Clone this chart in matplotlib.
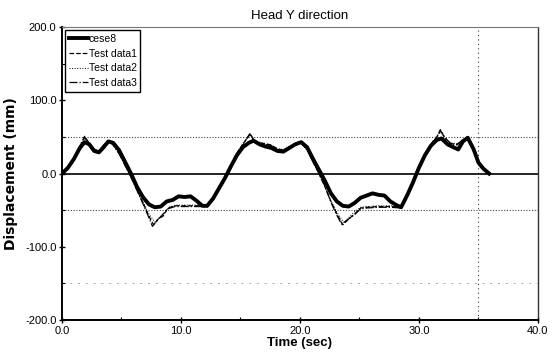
import numpy as np
import matplotlib
matplotlib.use('Agg')
import matplotlib.pyplot as plt

plt.rcParams['font.family'] = ['Liberation Sans', 'DejaVu Sans']

# cese8 (simulation)
t_cese = [0, 0.5, 1.0, 1.5, 1.9, 2.3, 2.7, 3.1, 3.5, 3.9, 4.3, 4.8, 5.3, 5.8, 6.3, 6.8, 7.3, 7.8,
          8.3, 8.8, 9.3, 9.8, 10.3, 10.8, 11.3, 11.8, 12.2, 12.7, 13.2, 13.7, 14.2, 14.7, 15.2,
          15.7, 16.1, 16.6, 17.1, 17.6, 18.1, 18.6, 19.1, 19.6, 20.1, 20.6, 21.1, 21.6, 22.1,
          22.6, 23.1, 23.6, 24.1, 24.6, 25.1, 25.6, 26.1, 26.6, 27.1, 27.6, 28.1, 28.5, 29.0,
          29.5, 30.0, 30.5, 31.0, 31.5, 31.9, 32.4, 32.9, 33.3, 33.7, 34.1, 34.6, 35.0, 35.4, 35.9]
y_cese = [0, 8, 20, 35, 43, 40, 31, 29, 36, 44, 42, 32, 16, 0, -18, -32, -42, -46,
          -45, -38, -36, -31, -32, -31, -37, -44, -44, -34, -20, -6, 10, 25, 36,
          42, 45, 40, 37, 35, 31, 30, 35, 40, 43, 36, 20, 5, -10,
          -27, -38, -44, -45, -40, -33, -30, -27, -29, -30, -38, -43, -46, -30,
          -12, 8, 25, 38, 46, 48, 40, 36, 33, 44, 49, 33, 15, 7, 0]

# Test data1
t_test1 = [0, 0.5, 1.0, 1.5, 1.9, 2.3, 2.7, 3.1, 3.5, 3.9, 4.3, 4.8, 5.3, 5.8, 6.3, 6.8, 7.3, 7.7,
           8.1, 8.5, 8.9, 9.5, 10.3, 11.0, 11.8, 12.2, 12.7, 13.2, 13.7, 14.2, 14.7, 15.2, 15.8,
           16.2, 16.6, 17.1, 17.6, 18.1, 18.6, 19.1, 19.6, 20.1, 20.6, 21.1, 21.6, 22.1, 22.6,
           23.1, 23.6, 24.1, 24.6, 25.1, 25.6, 26.6, 27.6, 28.5, 29.0, 29.5, 30.0, 30.5, 31.0,
           31.5, 31.8, 32.2, 32.7, 33.2, 33.7, 34.1, 34.6, 35.0, 35.5, 36.0]
y_test1 = [0, 7, 20, 37, 51, 41, 33, 31, 38, 45, 40, 28, 12, -4, -22, -40, -58, -70,
           -62, -58, -47, -44, -44, -44, -44, -45, -34, -20, -4, 12, 28, 40, 55,
           44, 42, 41, 39, 34, 32, 36, 40, 42, 33, 16, 0, -18, -38,
           -55, -70, -62, -55, -47, -46, -45, -45, -46, -30, -10, 10, 27, 40,
           50, 60, 48, 41, 40, 46, 48, 32, 16, 6, 0]

# Test data2
t_test2 = [0, 0.5, 1.0, 1.5, 1.9, 2.3, 2.7, 3.1, 3.5, 3.9, 4.3, 4.8, 5.3, 5.8, 6.3, 6.8, 7.3, 7.8,
           8.2, 8.6, 9.0, 9.5, 10.3, 11.0, 11.8, 12.2, 12.7, 13.2, 13.7, 14.2, 14.7, 15.2, 15.8,
           16.2, 16.6, 17.1, 17.6, 18.1, 18.6, 19.1, 19.6, 20.1, 20.6, 21.1, 21.6, 22.1, 22.6,
           23.1, 23.7, 24.1, 24.6, 25.1, 25.6, 26.6, 27.6, 28.5, 29.0, 29.5, 30.0, 30.5, 31.0,
           31.5, 31.8, 32.2, 32.7, 33.2, 33.7, 34.1, 34.6, 35.0, 35.5, 36.0]
y_test2 = [0, 6, 19, 36, 48, 42, 34, 30, 37, 44, 41, 29, 13, -3, -21, -38, -55, -66,
           -60, -54, -46, -43, -43, -43, -43, -44, -34, -19, -3, 13, 29, 41, 53,
           45, 43, 40, 38, 34, 33, 37, 40, 41, 32, 15, -1, -19, -37,
           -53, -67, -60, -52, -46, -45, -44, -44, -45, -29, -9, 11, 28, 41,
           51, 57, 47, 42, 41, 45, 47, 31, 15, 5, 0]

# Test data3
t_test3 = [0, 0.5, 1.0, 1.5, 1.9, 2.3, 2.7, 3.1, 3.5, 3.9, 4.3, 4.8, 5.3, 5.8, 6.3, 6.8, 7.3, 7.6,
           8.0, 8.4, 8.9, 9.5, 10.3, 11.0, 11.8, 12.2, 12.7, 13.2, 13.7, 14.2, 14.7, 15.2, 15.8,
           16.2, 16.6, 17.1, 17.6, 18.1, 18.6, 19.1, 19.6, 20.1, 20.6, 21.1, 21.6, 22.1, 22.6,
           23.1, 23.5, 24.0, 24.6, 25.1, 25.6, 26.6, 27.6, 28.5, 29.0, 29.5, 30.0, 30.5, 31.0,
           31.5, 31.8, 32.2, 32.7, 33.2, 33.7, 34.1, 34.6, 35.0, 35.5, 36.0]
y_test3 = [0, 7, 21, 38, 50, 40, 32, 31, 39, 45, 39, 27, 11, -5, -23, -41, -60, -72,
           -64, -57, -48, -45, -45, -45, -45, -46, -35, -21, -5, 11, 27, 39, 54,
           43, 41, 40, 38, 33, 31, 35, 39, 42, 34, 17, 1, -17, -39,
           -57, -69, -63, -56, -48, -47, -46, -46, -47, -31, -11, 9, 26, 39,
           49, 59, 49, 40, 39, 47, 49, 33, 17, 7, 0]

fig = plt.figure(figsize=(5.56, 3.61), dpi=100)
ax = fig.add_axes([0.1115, 0.1136, 0.856, 0.811])

# reference lines
ax.axhline(0, color='black', lw=1.2, zorder=1)
for yv in [50, -50]:
    ax.axhline(yv, color='#444444', lw=0.8, ls=(0, (1, 1.5)), zorder=1)
ax.axhline(-150, color='#aaaaaa', lw=0.7, ls=(0, (2, 6)), zorder=1)
ax.axvline(35, color='#333333', lw=0.8, ls=(0, (1, 3)), zorder=1)

ax.plot(t_test1, y_test1, color='black', lw=0.9, ls='--', label='Test data1', zorder=3)
ax.plot(t_test2, y_test2, color='black', lw=0.7, ls=':', label='Test data2', zorder=3)
ax.plot(t_test3, y_test3, color='black', lw=0.9, ls='-.', label='Test data3', zorder=3)
ax.plot(t_cese, y_cese, color='black', lw=2.8, label='cese8', zorder=4)

ax.set_xlim(0, 40)
ax.set_ylim(-200, 200)
ax.set_xticks([0, 10, 20, 30, 40])
ax.set_xticklabels(['0.0', '10.0', '20.0', '30.0', '40.0'])
ax.set_xticks([5, 15, 25, 35], minor=True)
ax.set_yticks([-200, -100, 0, 100, 200])
ax.set_yticklabels(['-200.0', '-100.0', '0.0', '100.0', '200.0'])
ax.set_yticks([-150, -50, 50, 150], minor=True)
ax.tick_params(axis='both', which='major', direction='inout', length=4, width=1, labelsize=8, pad=2)
ax.tick_params(axis='both', which='minor', direction='in', length=2, width=0.8)

ax.spines['left'].set_linewidth(1.4)
ax.spines['bottom'].set_linewidth(1.4)
ax.spines['top'].set_color('#777777')
ax.spines['top'].set_linewidth(0.8)
ax.spines['right'].set_color('#333333')
ax.spines['right'].set_linewidth(1.0)

ax.set_title('Head Y direction', fontsize=9.5, pad=6)
ax.set_xlabel('Time (sec)', fontsize=9.5, fontweight='bold', labelpad=1)
ax.set_ylabel('Displacement (mm)', fontsize=10, fontweight='bold', family='DejaVu Sans')
ax.yaxis.set_label_coords(-0.092, 0.5)

h, l = ax.get_legend_handles_labels()
order = [3, 0, 1, 2]
ax.legend([h[i] for i in order], [l[i] for i in order], loc='upper left', fontsize=7.5,
          frameon=True, fancybox=False, edgecolor='black', framealpha=1,
          handlelength=1.8, handletextpad=0.1, labelspacing=0.45, borderpad=0.35,
          borderaxespad=0.3)

fig.savefig('out.png', dpi=100)
